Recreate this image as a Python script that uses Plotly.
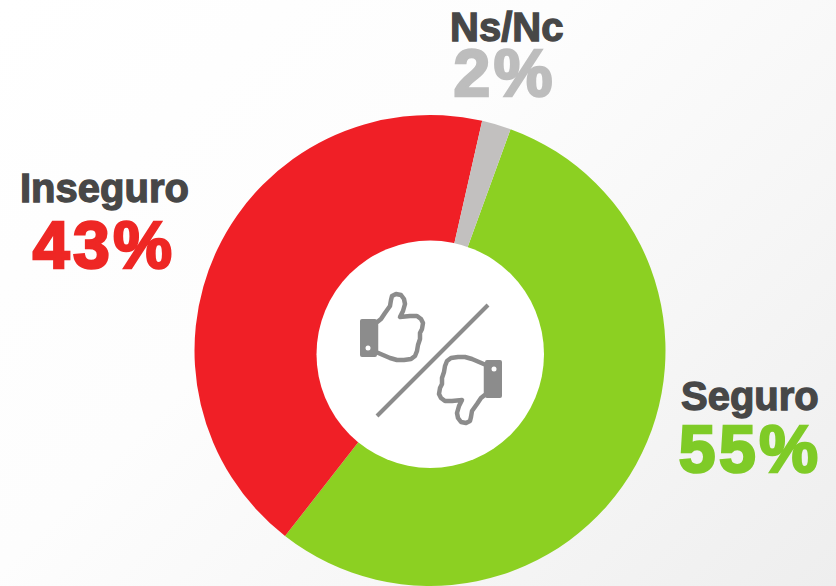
import plotly.graph_objects as go

categories = ["Seguro", "Inseguro", "Ns/Nc"]
values = [55, 43, 2]
slice_colors = ["#8CD022", "#F01F26", "#C2C0BF"]
name_color = "#474747"
pct_colors = ["#7FCB27", "#EE2724", "#BDBDBD"]
W, H = 836, 586
icon_gray = "#8C8C8C"

def px(x):
    return x / W

def py(y):
    return 1 - y / H

def path(points, close=True):
    s = "M" + " L".join(f"{px(x):.5f},{py(y):.5f}" for x, y in points)
    return s + (" Z" if close else "")

def flip(points):
    # thumbs-down is the thumbs-up turned half a circle
    return [(862 - x, 717 - y) for x, y in points]

fig = go.Figure(go.Pie(
    labels=categories, values=values, hole=0.46, sort=False, direction="clockwise",
    rotation=20, textinfo="none", hoverinfo="label+percent",
    marker=dict(colors=slice_colors, line=dict(width=0)),
    domain=dict(x=[px(194), px(666)], y=[0, py(115)]),
    showlegend=False,
))

thumb = [(376,323),(381,319),(385,313),(390,306),(391,300),(392,296),(396,294),(401,295),(404,299),(405,304),
         (403,311),(400,317),(410,316),(417,316),(421,319),(423,323),(422,329),(420,333),(420,339),(418,345),
         (417,351),(415,356),(411,359),(404,360),(397,360),(390,358),(383,355),(376,352)]
block = [(362,321),(375,321),(375,355),(362,355)]
shapes = [dict(type="circle", xref="paper", yref="paper", x0=px(316.5), x1=px(544), y0=py(468), y1=py(240.5),
               fillcolor="white", line=dict(width=0))]
for pts, blk, dot in [(thumb, block, (368, 348)), (flip(thumb), flip(block), (494, 369))]:
    shapes.append(dict(type="path", xref="paper", yref="paper", path=path(pts), fillcolor="white",
                       line=dict(color=icon_gray, width=4.5)))
    shapes.append(dict(type="path", xref="paper", yref="paper", path=path(blk), fillcolor=icon_gray,
                       line=dict(color=icon_gray, width=4)))
    shapes.append(dict(type="circle", xref="paper", yref="paper", x0=px(dot[0]-2.5), x1=px(dot[0]+2.5),
                       y0=py(dot[1]+2.5), y1=py(dot[1]-2.5), fillcolor="white", line=dict(width=0)))
shapes.append(dict(type="line", xref="paper", yref="paper", x0=px(377), y0=py(416), x1=px(488), y1=py(305),
                   line=dict(color=icon_gray, width=4)))

font = "Liberation Sans"
label_pos = {"Seguro": (750, 396, 750, 449), "Inseguro": (104, 188, 104, 245), "Ns/Nc": (506, 27, 505, 73)}
annotations = []
for cat, val, col in zip(categories, values, pct_colors):
    xn, yn, xp, yp = label_pos[cat]
    annotations.append(dict(text=cat, x=px(xn), y=py(yn), xref="paper", yref="paper", showarrow=False,
                            xanchor="center", yanchor="middle",
                            font=dict(family=font, size=40, color=name_color, weight=700)))
    annotations.append(dict(text=f"{val}%", x=px(xp), y=py(yp), xref="paper", yref="paper", showarrow=False,
                            xanchor="center", yanchor="middle",
                            font=dict(family=font, size=66, color=col, weight=700)))

fig.update_layout(
    width=W, height=H, margin=dict(l=0, r=0, t=0, b=0, pad=0),
    paper_bgcolor="rgba(0,0,0,0)", plot_bgcolor="rgba(0,0,0,0)",
    shapes=shapes, annotations=annotations,
)
post = """
document.documentElement.style.margin='0';
document.body.style.margin='0';
document.body.style.overflow='hidden';
document.body.style.background='linear-gradient(135deg,#FFFFFF 0%,#FDFDFD 40%,#F6F6F6 70%,#EEEEEE 100%)';
document.body.style.minHeight='586px';
document.querySelectorAll('.shapelayer path').forEach(function(p){p.style.strokeLinejoin='round';});
document.querySelectorAll('.annotation-text').forEach(function(t){
  var big=parseFloat(t.style.fontSize)>50;
  t.style.stroke=t.style.fill;
  t.style.strokeWidth=big?'2.6px':'1.3px';
  if(big){t.style.letterSpacing='3.5px';}
});
"""
fig.write_html("out.html", config={"displayModeBar": False}, post_script=post)
